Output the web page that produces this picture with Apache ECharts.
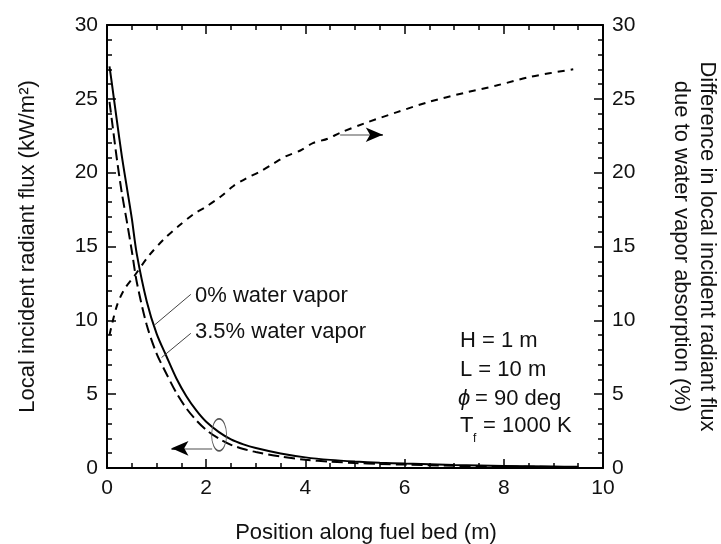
<!DOCTYPE html>
<html>
<head>
<meta charset="utf-8">
<script src="https://cdn.jsdelivr.net/npm/echarts@6/dist/echarts.min.js"></script>
<style>
  html, body { margin: 0; padding: 0; background: #fff; }
  #chart { width: 721px; height: 544px; }
</style>
</head>
<body>
<div id="chart"></div>
<script>
// positions along the fuel bed (m)
var fluxX = [0.05, 0.1, 0.2, 0.3, 0.4, 0.5, 0.6, 0.8, 1.0, 1.2, 1.4, 1.6, 1.8, 2.0, 2.25, 2.5, 2.75, 3.0, 3.5, 4.0, 4.5, 5.0, 5.5, 6.0, 7.0, 8.0, 9.0, 9.5];
// local incident radiant flux (kW/m2)
var vapor0 = [27.2, 26.0, 23.5, 21.1, 19.0, 16.9, 14.5, 11.3, 9.1, 7.55, 6.06, 4.86, 3.9, 3.13, 2.45, 1.94, 1.6, 1.35, 0.98, 0.72, 0.55, 0.44, 0.36, 0.3, 0.2, 0.14, 0.1, 0.08];
var vapor35 = [24.8, 23.5, 20.9, 18.6, 16.7, 14.7, 12.6, 9.7, 7.75, 6.37, 5.08, 4.04, 3.23, 2.58, 2.0, 1.57, 1.29, 1.08, 0.78, 0.56, 0.43, 0.34, 0.27, 0.23, 0.15, 0.1, 0.07, 0.06];
// difference due to water vapor absorption (%)
var diffX = [0.05, 0.2, 0.35, 0.55, 0.85, 1.15, 1.45, 1.75, 2.0, 2.3, 2.55, 2.8, 3.1, 3.35, 3.6, 3.9, 4.15, 4.45, 4.7, 5.2, 5.85, 6.5, 7.2, 7.85, 8.55, 9.4];
var diffY = [9.0, 11.0, 12.1, 13.0, 14.4, 15.5, 16.4, 17.2, 17.7, 18.4, 19.1, 19.6, 20.1, 20.6, 21.1, 21.5, 22.0, 22.3, 22.7, 23.35, 24.1, 24.8, 25.4, 25.9, 26.5, 27.0];

var FONT = 'Liberation Sans, Arial, Helvetica, sans-serif';

function pairs(xs, ys) {
    return xs.map(function (x, i) { return [x, ys[i]]; });
}

var chart = echarts.init(document.getElementById('chart'));

var axisLine = { show: true, onZero: false, lineStyle: { color: '#000', width: 2 } };
var tick = { show: true, inside: true, length: 9, lineStyle: { color: '#000', width: 1.5 } };
var labelStyle = { color: '#111', fontSize: 21, fontFamily: FONT };

function xAxis(pos, show) {
    return {
        type: 'value', position: pos, min: 0, max: 10, interval: 2,
        axisLine: axisLine, axisTick: tick,
        minorTick: { show: true, splitNumber: 4, length: 5, lineStyle: { color: '#000', width: 1.5 } },
        axisLabel: Object.assign({ show: show, margin: 10 }, labelStyle),
        splitLine: { show: false }
    };
}
function yAxis(pos) {
    return {
        type: 'value', position: pos, min: 0, max: 30, interval: 5,
        axisLine: axisLine, axisTick: tick,
        minorTick: { show: true, splitNumber: 5, length: 5, lineStyle: { color: '#000', width: 1.5 } },
        axisLabel: Object.assign({ margin: 9 }, labelStyle),
        splitLine: { show: false }
    };
}

var xBottom = xAxis('bottom', true);
xBottom.name = 'Position along fuel bed (m)';
xBottom.nameLocation = 'middle';
xBottom.nameGap = 54;
xBottom.nameTextStyle = { color: '#111', fontSize: 22, fontFamily: FONT, padding: [0, 0, 0, 22] };

var yLeft = yAxis('left');
yLeft.name = 'Local incident radiant flux (kW/m\u00B2)';
yLeft.nameLocation = 'middle';
yLeft.nameRotate = 90;
yLeft.nameGap = 68;
yLeft.nameTextStyle = { color: '#111', fontSize: 22, fontFamily: FONT };

var yRight = yAxis('right');
yRight.name = 'Difference in local incident radiant flux\ndue to water vapor absorption (%)';
yRight.nameLocation = 'middle';
yRight.nameRotate = -90;
yRight.nameGap = 65;
yRight.nameTextStyle = { color: '#111', fontSize: 22, fontFamily: FONT, lineHeight: 26 };

var thin = { color: '#444', width: 1, type: 'solid' };
var grey = { color: '#888', width: 1.5, type: 'solid' };
var black = { color: '#000', width: 1.5, type: 'solid' };

chart.setOption({
    animation: false,
    backgroundColor: '#fff',
    grid: { left: 107, right: 118, top: 25, bottom: 76, containLabel: false, outerBoundsMode: 'none' },
    xAxis: [xBottom, xAxis('top', false)],
    yAxis: [yLeft, yRight],
    series: [
        {
            name: '0% water vapor', type: 'line', xAxisIndex: 0, yAxisIndex: 0,
            data: pairs(fluxX, vapor0), smooth: 0.3, symbol: 'none',
            lineStyle: { color: '#000', width: 2 },
            markLine: {
                silent: true, symbol: ['none', 'none'], label: { show: false },
                data: [
                    [{ coord: [0.95, 9.66], lineStyle: thin }, { coord: [1.69, 11.76] }],
                    [{ coord: [1.10, 7.48], lineStyle: thin }, { coord: [1.69, 9.12] }],
                    // left-pointing arrow
                    [{ coord: [2.12, 1.33], lineStyle: grey }, { coord: [1.45, 1.33] }],
                    [{ coord: [1.38, 1.33], lineStyle: black, symbol: 'none' },
                     { coord: [1.30, 1.33], symbol: 'arrow', symbolSize: [11, 17] }]
                ]
            },
            markPoint: {
                silent: true,
                data: [{
                    coord: [2.26, 2.24], symbol: 'circle', symbolSize: [15, 32],
                    itemStyle: { color: 'rgba(0,0,0,0)', borderColor: '#555', borderWidth: 1.2 },
                    label: { show: false }
                }]
            }
        },
        {
            name: '3.5% water vapor', type: 'line', xAxisIndex: 0, yAxisIndex: 0,
            data: pairs(fluxX, vapor35), smooth: 0.3, symbol: 'none',
            lineStyle: { color: '#000', width: 2, type: [11, 5] }
        },
        {
            name: 'Difference', type: 'line', xAxisIndex: 0, yAxisIndex: 1,
            data: pairs(diffX, diffY), smooth: 0.3, symbol: 'none',
            lineStyle: { color: '#000', width: 2, type: [7, 6] },
            markLine: {
                silent: true, symbol: ['none', 'none'], label: { show: false },
                data: [
                    // right-pointing arrow
                    [{ coord: [4.70, 22.57], lineStyle: grey }, { coord: [5.40, 22.57] }],
                    [{ coord: [5.48, 22.57], lineStyle: black, symbol: 'none' },
                     { coord: [5.56, 22.57], symbol: 'arrow', symbolSize: [11, 17] }]
                ]
            }
        }
    ],
    graphic: [
        { type: 'text', x: 195, y: 296, style: { text: '0% water vapor', font: '22px ' + FONT, fill: '#111', verticalAlign: 'middle' } },
        { type: 'text', x: 195, y: 332, style: { text: '3.5% water vapor', font: '22px ' + FONT, fill: '#111', verticalAlign: 'middle' } },
        { type: 'text', x: 460, y: 341, style: { text: 'H = 1 m', font: '22px ' + FONT, fill: '#111', verticalAlign: 'middle' } },
        { type: 'text', x: 460, y: 370, style: { text: 'L = 10 m', font: '22px ' + FONT, fill: '#111', verticalAlign: 'middle' } },
        { type: 'text', x: 458, y: 399, style: { text: '\u03D5', font: 'italic 22px ' + FONT, fill: '#111', verticalAlign: 'middle' } },
        { type: 'text', x: 475, y: 399, style: { text: '= 90 deg', font: '22px ' + FONT, fill: '#111', verticalAlign: 'middle' } },
        { type: 'text', x: 460, y: 426, style: { text: 'T', font: '22px ' + FONT, fill: '#111', verticalAlign: 'middle' } },
        { type: 'text', x: 473, y: 439, style: { text: 'f', font: '12px ' + FONT, fill: '#111', verticalAlign: 'middle' } },
        { type: 'text', x: 483, y: 426, style: { text: '= 1000 K', font: '22px ' + FONT, fill: '#111', verticalAlign: 'middle' } }
    ]
});
</script>
</body>
</html>
